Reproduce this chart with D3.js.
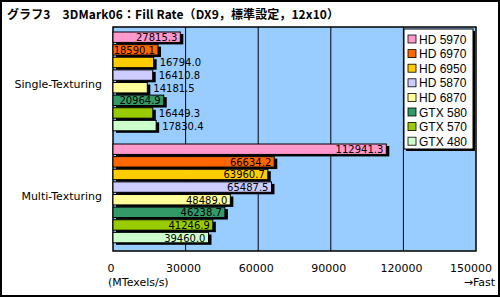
<!DOCTYPE html>
<html>
<head>
<meta charset="utf-8">
<script src="https://cdn.jsdelivr.net/npm/d3@7"></script>
<style>
  body { margin: 0; background: #fff; }
  svg { display: block; }
</style>
</head>
<body>
<div id="chart"></div>
<script>
// data
const categories = ["Single-Texturing", "Multi-Texturing"];
const cards = ["HD 5970", "HD 6970", "HD 6950", "HD 5870", "HD 6870", "GTX 580", "GTX 570", "GTX 480"];
const colors = ["#ff99cc", "#ff6600", "#ffcc00", "#ccccff", "#ffff99", "#339966", "#99cc00", "#ccffcc"];
const singleTex = [27815.3, 18590.1, 16794.0, 16410.8, 14181.5, 20964.9, 16449.3, 17830.4];
const multiTex = [112941.3, 66634.2, 63960.7, 65487.5, 48489.0, 46238.7, 41246.9, 39460.0];
const ticks = [0, 30000, 60000, 90000, 120000, 150000];

const width = 500, height = 298;
const plot = {left: 113, right: 476, top: 27, bottom: 251};
const font = "'DejaVu Sans', sans-serif";

let svg = d3.select("#chart")
  .append("svg")
    .attr("width", width)
    .attr("height", height);

svg.append("rect")
  .attr("x", 1).attr("y", 1)
  .attr("width", width - 2).attr("height", height - 3)
  .attr("fill", "white")
  .attr("stroke", "black")
  .attr("stroke-width", 2);

svg.append("text")
  .attr("x", 7)
  .attr("y", 19)
  .attr("textLength", 332)
  .attr("lengthAdjust", "spacing")
  .style("font-family", "'Noto Sans CJK JP', sans-serif")
  .style("font-size", "12px")
  .style("font-weight", "bold")
  .text("グラフ3　3DMark06：Fill Rate（DX9，標準設定，12x10）");

let x = d3.scaleLinear()
  .domain([0, 150000])
  .range([plot.left, plot.right]);

let y = d3.scaleBand()
  .domain(categories)
  .range([plot.top, plot.bottom]);

let yInner = d3.scaleBand()
  .domain(cards)
  .range([5, y.bandwidth() - 6]);

// plot background
svg.append("rect")
  .attr("x", plot.left).attr("y", plot.top)
  .attr("width", plot.right - plot.left)
  .attr("height", plot.bottom - plot.top)
  .attr("fill", "#99ccff");

// gridlines
svg.append("g")
  .selectAll("line")
  .data(ticks.slice(1, -1))
  .enter()
  .append("line")
  .attr("x1", d => x(d)).attr("x2", d => x(d))
  .attr("y1", plot.top).attr("y2", plot.bottom)
  .attr("stroke", "black")
  .attr("stroke-width", 1);

svg.append("rect")
  .attr("x", plot.left).attr("y", plot.top)
  .attr("width", plot.right - plot.left)
  .attr("height", plot.bottom - plot.top)
  .attr("fill", "none")
  .attr("stroke", "black")
  .attr("stroke-width", 1.5);

// bars
const series = [singleTex, multiTex];
categories.forEach((cat, ci) => {
  let rows = cards.map((c, i) => ({card: c, value: series[ci][i], color: colors[i]}));
  let g = svg.append("g")
    .attr("transform", "translate(0," + y(cat) + ")");

  let bh = yInner.bandwidth() - 2.2;

  g.selectAll(".shadow")
    .data(rows)
    .enter()
    .append("rect")
    .attr("x", x(0) + 3)
    .attr("y", d => yInner(d.card) + 2)
    .attr("width", d => x(d.value) - x(0))
    .attr("height", bh)
    .attr("fill", "black");

  g.selectAll(".bar")
    .data(rows)
    .enter()
    .append("rect")
    .attr("x", x(0))
    .attr("y", d => yInner(d.card))
    .attr("width", d => x(d.value) - x(0))
    .attr("height", bh)
    .attr("fill", d => d.color)
    .attr("stroke", "black")
    .attr("stroke-width", 1);

  g.selectAll(".val")
    .data(rows)
    .enter()
    .append("text")
    .attr("y", d => yInner(d.card) + bh / 2 + 0.5)
    .style("font-family", font)
    .style("font-size", "10px")
    .style("dominant-baseline", "central")
    .text(d => d.value.toFixed(1))
    .each(function(d) {
      let tw = this.getComputedTextLength();
      let bw = x(d.value) - x(0);
      if (bw > tw + 3) {
        d3.select(this).attr("x", x(d.value) - 3).attr("text-anchor", "end");
      } else {
        d3.select(this).attr("x", x(d.value) + 6).attr("text-anchor", "start");
      }
    });

  svg.append("text")
    .attr("x", 102)
    .attr("y", y(cat) + y.bandwidth() / 2 + 1)
    .attr("text-anchor", "end")
    .style("font-family", font)
    .style("font-size", "11px")
    .style("dominant-baseline", "central")
    .text(cat);
});

// x tick labels
svg.append("g")
  .selectAll("text")
  .data(ticks)
  .enter()
  .append("text")
  .attr("x", (d, i) => i === ticks.length - 1 ? x(d) - 5 : x(d) - 2)
  .attr("y", 272)
  .attr("text-anchor", "middle")
  .style("font-family", font)
  .style("font-size", "11px")
  .text(d => d);

svg.append("text")
  .attr("x", 108)
  .attr("y", 286)
  .style("font-family", font)
  .style("font-size", "11px")
  .text("(MTexels/s)");

svg.append("text")
  .attr("x", 495)
  .attr("y", 286)
  .attr("text-anchor", "end")
  .style("font-family", font)
  .style("font-size", "11px")
  .text("→Fast");

// legend
const lg = {x: 404, y: 29, w: 69, h: 120};
svg.append("rect")
  .attr("x", lg.x + 2).attr("y", lg.y + 2)
  .attr("width", lg.w).attr("height", lg.h)
  .attr("fill", "black");
svg.append("rect")
  .attr("x", lg.x).attr("y", lg.y)
  .attr("width", lg.w).attr("height", lg.h)
  .attr("fill", "white")
  .attr("stroke", "black");

let leg = svg.append("g")
  .selectAll("g")
  .data(cards)
  .enter()
  .append("g")
  .attr("transform", (d, i) => "translate(" + (lg.x + 4) + "," + (lg.y + 6 + i * 14.6) + ")");

leg.append("rect")
  .attr("width", 8).attr("height", 8)
  .attr("fill", (d, i) => colors[i])
  .attr("stroke", "black")
  .attr("stroke-width", 0.8);

leg.append("text")
  .attr("x", 11)
  .attr("y", 4.5)
  .style("font-family", "'Liberation Sans', Arial, sans-serif")
  .style("font-size", "12px")
  .style("dominant-baseline", "central")
  .text(d => d);
</script>
</body>
</html>
